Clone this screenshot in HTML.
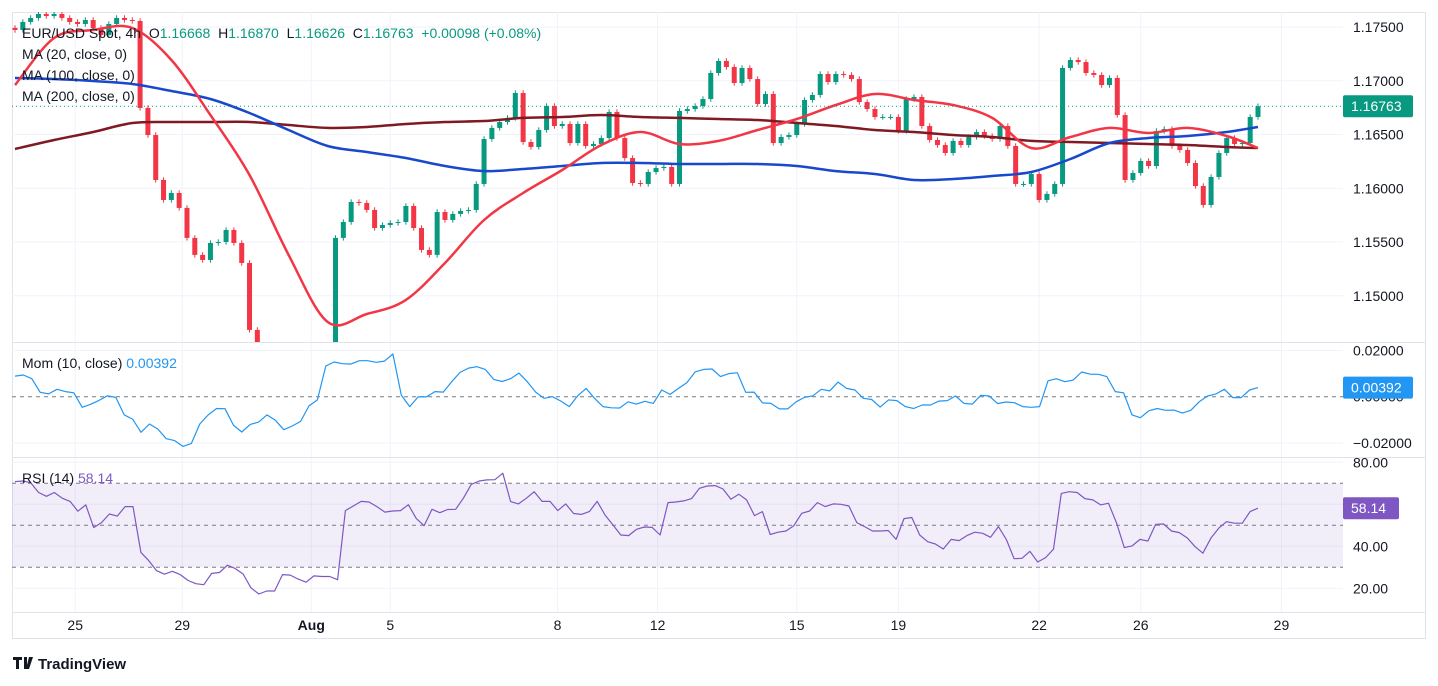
<!DOCTYPE html>
<html><head><meta charset="utf-8"><style>
html,body{margin:0;padding:0;background:#fff;}
svg{display:block;font-family:"Liberation Sans",sans-serif;}
</style></head><body>
<svg id="c" width="1438" height="686" viewBox="0 0 1438 686"></svg>
<script>
const closes=[1.17472,1.17547,1.17584,1.17621,1.17602,1.17621,1.17584,1.17547,1.17528,1.17565,1.17491,1.17426,1.17528,1.17584,1.17565,1.17556,
1.16747,1.16495,1.16077,1.15891,1.15956,1.15817,1.15538,1.15380,1.15333,1.15491,1.15500,1.15612,1.15491,1.15305,1.14682,1.14543,
1.14449,1.14403,1.14496,1.14356,1.14310,1.14403,1.14449,1.14421,1.14496,
1.15538,1.15686,1.15872,1.15863,1.15798,1.15630,1.15658,1.15677,1.15686,1.15835,1.15630,1.15426,1.15380,1.15779,1.15705,1.15761,1.15789,1.15798,
1.16040,1.16458,1.16561,1.16616,1.16654,1.16886,1.16430,1.16384,1.16542,1.16765,1.16579,1.16598,1.16421,1.16598,1.16393,1.16412,1.16467,1.16709,1.16467,1.16281,1.16049,1.16040,1.16151,1.16188,1.16198,1.16040,
1.16719,1.16737,1.16765,1.16830,1.17072,1.17184,1.17128,1.16979,1.17119,1.17016,1.16784,1.16877,1.16421,1.16477,1.16495,1.16598,1.16821,1.16868,1.17063,1.16988,1.17063,1.17054,1.17016,1.16802,1.16737,1.16663,1.16663,1.16663,1.16533,1.16830,1.16849,
1.16579,1.16449,1.16402,1.16328,1.16440,1.16402,1.16477,1.16523,1.16486,1.16458,1.16579,1.16393,1.16040,1.16040,1.16133,1.15891,1.15947,1.16040,
1.17119,1.17193,1.17174,1.17072,1.17054,1.16960,1.17026,1.16681,1.16077,1.16142,1.16254,1.16207,1.16533,1.16551,1.16393,1.16356,1.16235,1.16021,1.15844,1.16105,1.16328,1.16467,1.16412,1.16421,1.16663,1.16763];
const maIdx=[0,5,10,15,20,25,30,35,40,45,50,55,60,65,70,75,80,85,90,95,100,105,110,115,120,125,130,135,140,145,150,155,159];
const ma20=[1.16960,1.17398,1.17472,1.17491,1.17193,1.16681,1.16123,1.15380,1.14756,1.14830,1.14961,1.15305,1.15705,1.15956,1.16170,1.16402,1.16523,1.16412,1.16440,1.16542,1.16644,1.16774,1.16877,1.16821,1.16774,1.16654,1.16374,1.16477,1.16561,1.16514,1.16561,1.16486,1.16374];
const ma100=[1.17026,1.17016,1.16998,1.16970,1.16905,1.16830,1.16700,1.16542,1.16393,1.16337,1.16281,1.16207,1.16160,1.16179,1.16207,1.16235,1.16235,1.16226,1.16226,1.16226,1.16207,1.16160,1.16133,1.16077,1.16086,1.16114,1.16151,1.16272,1.16421,1.16467,1.16486,1.16523,1.16570];
const ma200=[1.16365,1.16449,1.16523,1.16607,1.16616,1.16616,1.16616,1.16588,1.16561,1.16570,1.16598,1.16616,1.16626,1.16654,1.16663,1.16681,1.16663,1.16654,1.16644,1.16635,1.16607,1.16579,1.16542,1.16523,1.16495,1.16477,1.16440,1.16430,1.16421,1.16412,1.16402,1.16384,1.16374];
const mom=[0.0089,0.0094,0.0078,0.0019,0.0012,0.0032,0.0022,0.0017,-0.0046,-0.0033,-0.0016,0.0004,-0.0003,-0.0079,-0.0097,-0.0154,-0.0118,-0.0140,-0.0182,-0.0190,-0.0215,-0.0202,-0.0118,-0.0079,-0.0051,-0.0052,-0.0123,-0.0153,-0.0120,-0.0110,-0.0079,-0.0102,-0.0143,-0.0127,-0.0107,-0.0040,-0.0014,0.0133,0.0150,0.0143,0.0141,0.0156,0.0156,0.0149,0.0154,0.0185,0.0007,-0.0043,-0.0001,-0.0001,0.0022,0.0020,0.0065,0.0105,0.0124,0.0130,0.0118,0.0075,0.0066,0.0078,0.0102,0.0065,0.0020,-0.0007,0,-0.0019,-0.0043,0.0004,0.0036,-0.0007,-0.0043,-0.0048,-0.0049,-0.0022,-0.0032,-0.0020,-0.0029,0.0029,0.0010,0.0036,0.0061,0.0108,0.0118,
0.0120,0.0087,0.0100,0.0104,0.0019,0.0020,-0.0027,-0.0029,-0.0053,-0.0053,-0.0022,-0.0003,0.0004,0.0032,0.0025,0.0063,0.0036,0.0029,-0.0007,-0.0012,-0.0045,-0.0014,-0.0017,-0.0043,-0.0051,-0.0036,-0.0036,-0.0019,-0.0017,0.0003,-0.0029,-0.0032,0.0006,0.0003,-0.0030,-0.0023,-0.0026,-0.0043,-0.0046,-0.0043,0.0069,0.0078,0.0065,0.0072,0.0107,0.0098,0.0097,0.0087,0.0022,0.0017,-0.0079,-0.0091,-0.0061,-0.0051,-0.0059,-0.0058,-0.0071,-0.0059,-0.0022,0.0003,0.0012,0.0032,-0.0004,-0.0004,0.0029,0.00392];
const rsi=[70.8,71.1,70.3,65.6,63.8,65.6,62.9,61.4,56.7,59.7,48.9,51.3,55.4,54.4,58.9,58.9,37.1,33.2,28.4,26.7,28.1,26.5,23.7,22.2,21.7,27.1,27.5,31.0,29.4,26.8,20.2,17.3,18.7,18.7,26.5,26.3,24.4,22.9,25.9,25.6,25.6,24.1,57.0,59.2,61.4,61.1,58.9,56.3,56.8,57.0,59.8,53.3,49.8,57.6,56.0,57.5,57.6,62.9,69.5,71.1,71.6,71.7,74.8,61.3,60.2,62.9,66.0,61.4,61.4,57.0,60.2,55.6,55.2,56.5,61.4,54.9,50.2,45.4,45.1,48.1,49.2,49.0,45.4,60.8,61.1,61.6,62.7,67.6,68.7,
68.9,67.3,62.4,64.8,62.1,54.6,56.5,45.6,46.7,47.3,49.8,55.7,56.8,60.8,58.9,60.2,60.0,59.2,51.3,49.4,47.3,47.3,47.5,43.3,53.2,53.7,45.4,42.2,41.1,38.7,43.3,42.7,45.1,46.7,46.2,44.3,49.4,43.3,34.1,34.3,37.6,32.5,34.6,38.6,65.2,66.0,65.6,62.7,62.1,59.7,60.5,51.3,39.4,40.2,43.3,42.5,50.5,50.6,47.3,46.5,44.0,39.8,36.7,43.8,48.6,51.7,51.0,51.0,56.5,58.14];
const priceTicks=[1.175,1.17,1.165,1.16,1.155,1.15];
const momTicks=[0.02,0,-0.02];
const rsiTicks=[80,40,20];
const xTickLabels=["25","29","Aug","5","8","12","15","19","22","26","29"];
const xTickIdx=[7.7,21.4,37.9,48,69.4,82.2,100,113,131,144,162];

const svg=document.getElementById('c');
const NS='http://www.w3.org/2000/svg';
function el(t,a,p){const e=document.createElementNS(NS,t);for(const k in a)e.setAttribute(k,a[k]);(p||svg).appendChild(e);return e;}
const L=12,R=1343,N=closes.length;
const xS=i=>15+i*(1258-15)/(N-1);
const yP=p=>27+(1.175-p)*10750;
const yM=v=>396.7-v/0.02*46.2;
const yR=v=>525.3-(v-50)*2.1;

el('rect',{x:12.5,y:12.5,width:1413,height:626,fill:'none',stroke:'#e0e3eb'});
const grid=el('g',{});

priceTicks.forEach(p=>el('line',{x1:L,x2:R,y1:yP(p),y2:yP(p),stroke:'#f0f3fa'},grid));
[0.02,-0.02].forEach(v=>el('line',{x1:L,x2:R,y1:yM(v),y2:yM(v),stroke:'#f0f3fa'},grid));
[80,60,40,20].forEach(v=>el('line',{x1:L,x2:R,y1:yR(v),y2:yR(v),stroke:'#f0f3fa'},grid));
xTickIdx.forEach(i=>{const x=xS(i);if(x<R)el('line',{x1:x,x2:x,y1:12,y2:612,stroke:'#f0f3fa'},grid);});
el('line',{x1:12,x2:1425,y1:342.5,y2:342.5,stroke:'#e0e3eb'});
el('line',{x1:12,x2:1425,y1:457.5,y2:457.5,stroke:'#e0e3eb'});
el('line',{x1:12,x2:1425,y1:612.5,y2:612.5,stroke:'#e0e3eb'});

const clip=el('clipPath',{id:'pc'});el('rect',{x:L,y:12,width:R-L,height:330},clip);
const pg=el('g',{'clip-path':'url(#pc)'});
for(let i=0;i<N;i++){
  const c=closes[i],o=i?closes[i-1]:c+0.0002;
  const up=c>=o,col=up?'#089981':'#f23645',x=xS(i);
  const hi=Math.max(o,c)+0.00025,lo=Math.min(o,c)-0.00025;
  const g=el('g',{},pg);
  
  
  el('line',{x1:x,x2:x,y1:yP(hi),y2:yP(lo),stroke:col,'stroke-width':1},g);
  const t=yP(Math.max(o,c)),b=yP(Math.min(o,c));
  el('rect',{x:x-2.5,y:t,width:5,height:Math.max(1,b-t),fill:col},g);
}
function line(vals,xf,yf,col,w,name,par){
  const d=vals.map((v,k)=>(k?'L':'M')+xf(k).toFixed(1)+' '+yf(v).toFixed(1)).join(' ');
  const p=el('path',{d:d,fill:'none',stroke:col,'stroke-width':w,'stroke-linejoin':'round'},par);
  
  
}
function smooth(vals,xf,yf,col,w,name,par){
  const P=vals.map((v,k)=>[xf(k),yf(v)]);
  let d='M'+P[0][0].toFixed(1)+' '+P[0][1].toFixed(1);
  for(let k=0;k<P.length-1;k++){
    const p0=P[Math.max(0,k-1)],p1=P[k],p2=P[k+1],p3=P[Math.min(P.length-1,k+2)];
    const c1=[p1[0]+(p2[0]-p0[0])/6,p1[1]+(p2[1]-p0[1])/6],c2=[p2[0]-(p3[0]-p1[0])/6,p2[1]-(p3[1]-p1[1])/6];
    d+=' C'+c1[0].toFixed(1)+' '+c1[1].toFixed(1)+' '+c2[0].toFixed(1)+' '+c2[1].toFixed(1)+' '+p2[0].toFixed(1)+' '+p2[1].toFixed(1);
  }
  const p=el('path',{d:d,fill:'none',stroke:col,'stroke-width':w,'stroke-linejoin':'round'},par);
  
  
}
smooth(ma200,k=>xS(maIdx[k]),yP,'#801922',2.5,'ma200-line',pg);
smooth(ma100,k=>xS(maIdx[k]),yP,'#1848cc',2.5,'ma100-line',pg);
smooth(ma20,k=>xS(maIdx[k]),yP,'#f23645',2.5,'ma20-line',pg);
el('line',{x1:L,x2:R,y1:yP(1.16763),y2:yP(1.16763),stroke:'#089981','stroke-dasharray':'1 3'});

el('line',{x1:L,x2:R,y1:yM(0),y2:yM(0),stroke:'#787b86','stroke-dasharray':'4 4'});
line(mom,k=>xS(k*(N-1)/(mom.length-1)),yM,'#2196f3',1.2,'momentum-line');
el('rect',{x:L,y:yR(70),width:R-L,height:yR(30)-yR(70),fill:'#7e57c2','fill-opacity':0.1});
[70,50,30].forEach(v=>el('line',{x1:L,x2:R,y1:yR(v),y2:yR(v),stroke:'#787b86','stroke-dasharray':'4 4'}));
line(rsi,k=>xS(k*(N-1)/(rsi.length-1)),yR,'#7e57c2',1.2,'rsi-line');

function txt(s,x,y,o,name){const t=el('text',Object.assign({x:x,y:y,'font-size':14,fill:'#131722'},o||{}));t.textContent=s;
 return t;}
priceTicks.forEach(p=>txt(p.toFixed(5),1353,yP(p)+5,{},'price-tick'));
momTicks.forEach(v=>txt(v===0?'0.00000':(v<0?'\u22120.02000':'0.02000'),1353,yM(v)+5,{},'mom-tick'));
rsiTicks.forEach(v=>txt(v.toFixed(2),1353,yR(v)+5,{},'rsi-tick'));
xTickLabels.forEach((s,k)=>txt(s,xS(xTickIdx[k]),630,{'text-anchor':'middle','font-weight':s==='Aug'?'bold':'normal'},'x-tick'));
function badge(s,y,col,w,name){const g=el('g',{});
 el('rect',{x:1343,y:y-11,width:w,height:22,fill:col,rx:2},g);
 const t=el('text',{x:1351,y:y+5,'font-size':14,fill:'#fff'},g);t.textContent=s;}
badge('1.16763',yP(1.16763),'#089981',70,'last-price-badge');
badge('0.00392',yM(0.00392),'#2196f3',70,'mom-value-badge');
badge('58.14',yR(58.14),'#7e57c2',56,'rsi-value-badge');

const lg=el('text',{x:22,y:38,'font-size':14,fill:'#131722'});

lg.innerHTML='EUR/USD Spot, 4h &#160;O<tspan fill="#089981">1.16668</tspan> &#160;H<tspan fill="#089981">1.16870</tspan> &#160;L<tspan fill="#089981">1.16626</tspan> &#160;C<tspan fill="#089981">1.16763</tspan> &#160;<tspan fill="#089981">+0.00098 (+0.08%)</tspan>';
txt('MA (20, close, 0)',22,59,{},'ma20-legend');
txt('MA (100, close, 0)',22,80,{},'ma100-legend');
txt('MA (200, close, 0)',22,101,{},'ma200-legend');
const ml=txt('Mom (10, close)',22,368,{},'mom-legend');
const mv=el('tspan',{fill:'#2196f3'},ml);mv.textContent='  0.00392';
const rl=txt('RSI (14)',22,483,{},'rsi-legend');
const rv=el('tspan',{fill:'#7e57c2'},rl);rv.textContent='  58.14';
const lgo=el('g',{});
el('path',{d:'M13 657h9v3h-3v9h-3v-9h-3z M24 657h3v12h-3z',fill:'#131722'},lgo);
el('path',{d:'M29 657h4l-4 12h-3z',fill:'#131722'},lgo);
const lt=el('text',{x:38,y:669,'font-size':15,'font-weight':'bold',fill:'#131722'},lgo);lt.textContent='TradingView';
</script>
</body></html>
